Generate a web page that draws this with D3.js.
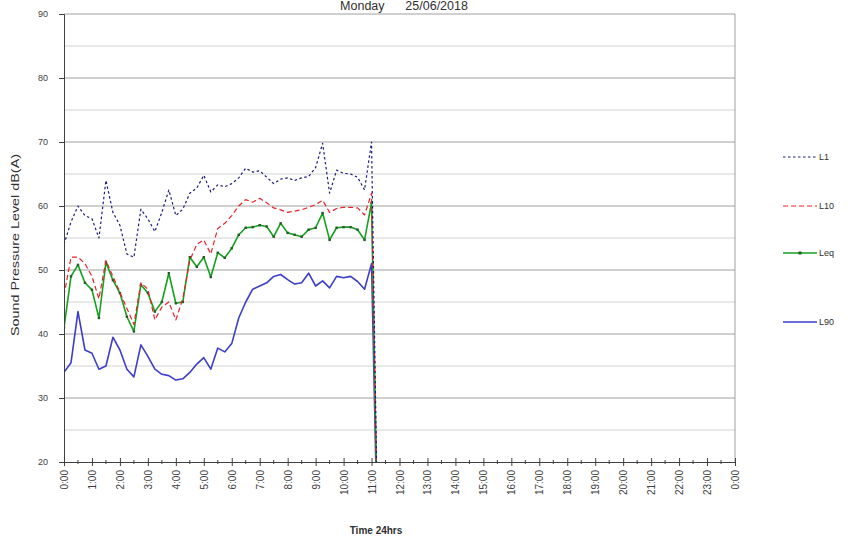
<!DOCTYPE html>
<html>
<head>
<meta charset="utf-8">
<script src="https://cdn.jsdelivr.net/npm/d3@7"></script>
<style>
  html, body { margin: 0; padding: 0; background: #fff; }
  svg { display: block; font-family: "Liberation Sans", Arial, sans-serif; }
</style>
</head>
<body>
<svg id="chart" width="848" height="543"></svg>
<script>
// ---------- data ----------
const titleText = "Monday      25/06/2018";
const yTitle = "Sound Pressure Level dB(A)";
const xTitle = "Time 24hrs";

const times = [
  "0:00","0:15","0:30","0:45",
  "1:00","1:15","1:30","1:45",
  "2:00","2:15","2:30","2:45",
  "3:00","3:15","3:30","3:45",
  "4:00","4:15","4:30","4:45",
  "5:00","5:15","5:30","5:45",
  "6:00","6:15","6:30","6:45",
  "7:00","7:15","7:30","7:45",
  "8:00","8:15","8:30","8:45",
  "9:00","9:15","9:30","9:45",
  "10:00","10:15","10:30","10:45",
  "11:00","11:15"
];

const L1 = [
  54, 57.5, 60, 58.5,
  58, 55, 64, 59,
  57, 52.5, 52, 59.5,
  58, 56, 59, 62.5,
  58.5, 59.5, 62, 62.8,
  64.8, 62.2, 63.3, 63,
  63.5, 64.4, 65.9, 65.3,
  65.5, 64.5, 63.5, 64.2,
  64.4, 64, 64.4, 64.6,
  66, 69.8, 62, 65.6,
  65.1, 65, 64.5, 62.5,
  70, 0
];

const L10 = [
  46, 52, 52, 51,
  49, 45.5, 51.5, 49,
  46.5, 44, 41.5, 48,
  47, 42.2, 44.2, 45,
  42.2, 45.5, 51.5, 54,
  54.7, 52.5, 56.5, 57.3,
  58.5, 60, 61, 60.6,
  61.2, 60.5, 59.7, 59.4,
  59, 59.2, 59.4, 59.8,
  60.2, 60.9, 59, 59.6,
  59.8, 59.8, 59.7, 58.6,
  62, 0
];

const Leq = [
  41, 49, 50.8, 48,
  46.9, 42.5, 51.2, 48.4,
  46.4, 42.7, 40.4, 47.7,
  46.4, 43.5, 45, 49.5,
  44.8, 45, 52, 50.5,
  52, 48.9, 52.7, 51.9,
  53.4, 55.5, 56.6, 56.7,
  57, 56.8, 55.2, 57.3,
  55.8, 55.5, 55.2, 56.3,
  56.6, 58.9, 54.7, 56.6,
  56.7, 56.7, 56.3, 54.7,
  60.5, 0
];

const L90 = [
  34, 35.5, 43.5, 37.5,
  37, 34.5, 35, 39.5,
  37.5, 34.5, 33.3, 38.3,
  36.5, 34.5, 33.7, 33.5,
  32.8, 33, 34, 35.3,
  36.3, 34.5, 37.8, 37.2,
  38.5, 42.5, 45, 47,
  47.5, 48, 49, 49.3,
  48.5, 47.8, 48, 49.5,
  47.5, 48.3, 47.2, 49,
  48.8, 49, 48.2, 47,
  51, 0
];

const xTickLabels = [
  "0:00","1:00","2:00","3:00","4:00","5:00","6:00","7:00","8:00","9:00",
  "10:00","11:00","12:00","13:00","14:00","15:00","16:00","17:00","18:00",
  "19:00","20:00","21:00","22:00","23:00","0:00"
];
const yTickValues = [20, 30, 40, 50, 60, 70, 80, 90];
const yMinorValues = [25, 35, 45, 55, 65, 75, 85];

const seriesNames = ["L1", "L10", "Leq", "L90"];

// ---------- layout ----------
const svg = d3.select("#chart");
const plot = { left: 64, right: 735, top: 14, bottom: 462 };

const toHours = s => { const [h, m] = s.split(":").map(Number); return h + m / 60; };

const x = d3.scaleLinear().domain([0, 24]).range([plot.left, plot.right]);
const y = d3.scaleLinear().domain([20, 90]).range([plot.bottom, plot.top]);

const styles = {
  L1:  { color: "#1a1a80", width: 1.2, dash: "2.5,2.5" },
  L10: { color: "#e8222a", width: 1.2, dash: "5,3" },
  Leq: { color: "#14a01e", width: 1.6, dash: null },
  L90: { color: "#3d3dc8", width: 1.6, dash: null }
};
const seriesData = { L1, L10, Leq, L90 };

// gridlines
svg.append("g").selectAll("line.minor").data(yMinorValues).join("line")
  .attr("x1", plot.left).attr("x2", plot.right)
  .attr("y1", d => y(d)).attr("y2", d => y(d))
  .attr("stroke", "#d2d2d2").attr("stroke-width", 1);
svg.append("g").selectAll("line.major").data(yTickValues.filter(v => v > 20)).join("line")
  .attr("x1", plot.left).attr("x2", plot.right)
  .attr("y1", d => y(d)).attr("y2", d => y(d))
  .attr("stroke", "#a0a0a0").attr("stroke-width", 1);

// right border
svg.append("line")
  .attr("x1", plot.right).attr("x2", plot.right)
  .attr("y1", plot.top).attr("y2", plot.bottom)
  .attr("stroke", "#a0a0a0");

// clip
svg.append("clipPath").attr("id", "clip").append("rect")
  .attr("x", plot.left).attr("y", plot.top)
  .attr("width", plot.right - plot.left).attr("height", plot.bottom - plot.top);

const line = d3.line().x(d => x(d.t)).y(d => y(d.v));
const gLines = svg.append("g").attr("clip-path", "url(#clip)");
seriesNames.slice().reverse().forEach(name => {
  const pts = times.map((t, i) => ({ t: toHours(t), v: seriesData[name][i] }));
  const st = styles[name];
  gLines.append("path").datum(pts)
    .attr("d", line)
    .attr("fill", "none")
    .attr("stroke", st.color)
    .attr("stroke-width", st.width)
    .attr("stroke-dasharray", st.dash)
    .attr("stroke-linejoin", "round");
  if (name === "Leq") {
    gLines.append("g").selectAll("rect").data(pts.filter(p => p.v > 20)).join("rect")
      .attr("x", d => x(d.t) - 1.2).attr("y", d => y(d.v) - 1.2)
      .attr("width", 2.4).attr("height", 2.4)
      .attr("fill", "#2a5a2a");
  }
});

// y axis
const yAxis = d3.axisLeft(y).tickValues(yTickValues).tickSize(5).tickPadding(11).tickFormat(d3.format("d"));
const gy = svg.append("g").attr("transform", `translate(${plot.left},0)`).call(yAxis);
gy.select(".domain").attr("stroke", "#404040");
gy.selectAll(".tick line").attr("stroke", "#404040");
gy.selectAll(".tick text").attr("font-size", 9).attr("fill", "#404040")
  .attr("font-family", "Liberation Sans, Arial, sans-serif");

// x axis
const xMajor = xTickLabels.map((d, i) => i);
const xAxis = d3.axisBottom(x).tickValues(xMajor).tickSize(4).tickPadding(0)
  .tickFormat((d, i) => xTickLabels[i]);
const gx = svg.append("g").attr("transform", `translate(0,${plot.bottom})`).call(xAxis);
gx.select(".domain").attr("stroke", "#404040");
gx.selectAll(".tick line").attr("stroke", "#404040").attr("y1", -4).attr("y2", 4);
gx.selectAll(".tick text")
  .attr("font-size", 10).attr("fill", "#404040")
  .attr("font-family", "Liberation Sans, Arial, sans-serif")
  .attr("transform", "rotate(-90)")
  .attr("text-anchor", "end")
  .attr("dy", "0.35em")
  .attr("x", -8).attr("y", 0);
// minor ticks (half hours)
const halfHours = xMajor.slice(0, -1).map(d => d + 0.5);
gx.append("g").selectAll("line").data(halfHours).join("line")
  .attr("x1", d => x(d)).attr("x2", d => x(d))
  .attr("y1", -2).attr("y2", 2)
  .attr("stroke", "#404040");

// titles
svg.append("text")
  .attr("x", 404).attr("y", 9.5)
  .attr("text-anchor", "middle")
  .attr("font-size", 12.5).attr("fill", "#303030")
  .style("white-space", "pre")
  .text(titleText);

svg.append("text")
  .attr("transform", "translate(19,245) rotate(-90)")
  .attr("text-anchor", "middle")
  .attr("font-size", 10).attr("fill", "#303030")
  .attr("textLength", 182).attr("lengthAdjust", "spacingAndGlyphs")
  .text(yTitle);

svg.append("text")
  .attr("x", 376).attr("y", 534)
  .attr("text-anchor", "middle")
  .attr("font-size", 10).attr("font-weight", "bold").attr("fill", "#303030")
  .text(xTitle);

// legend
const legendY = { L1: 157, L10: 206, Leq: 253, L90: 322 };
const gLeg = svg.append("g");
seriesNames.forEach(name => {
  const st = styles[name];
  const yy = legendY[name];
  gLeg.append("line")
    .attr("x1", 783).attr("x2", 817).attr("y1", yy).attr("y2", yy)
    .attr("stroke", st.color).attr("stroke-width", st.width)
    .attr("stroke-dasharray", st.dash);
  if (name === "Leq") {
    gLeg.append("rect").attr("x", 800 - 1.5).attr("y", yy - 1.5)
      .attr("width", 3).attr("height", 3).attr("fill", "#2a5a2a");
  }
  gLeg.append("text")
    .attr("x", 819).attr("y", yy).attr("dy", "0.35em")
    .attr("font-size", 9).attr("fill", "#303030")
    .text(name);
});
</script>
</body>
</html>
